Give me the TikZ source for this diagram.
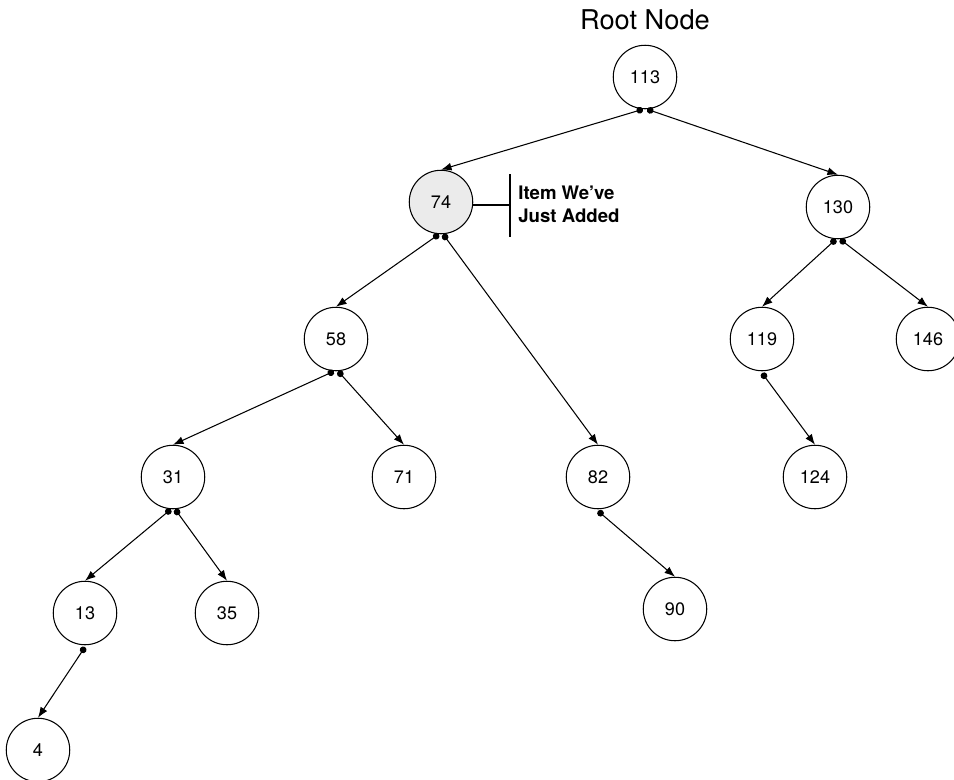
\documentclass[tikz,border=0pt]{standalone}
\usepackage{fontspec}
\setmainfont{TeX Gyre Heros}
\usetikzlibrary{arrows.meta,positioning}
\tikzset{
  bst/.style={circle, draw, line width=0.6pt, minimum size=1.27cm, inner sep=0pt,
    font=\fontsize{10.3}{12}\selectfont},
  added/.style={bst, fill=black!8},
  link/.style={line width=0.6pt, {Circle[length=3.8pt]}-{Latex[length=6pt,width=4.5pt]}},
}

\begin{document}
\begin{tikzpicture}[x=0.02cm, y=-0.02cm]
 \useasboundingbox (0,0) rectangle (954,779);
 \node[font=\fontsize{15.5}{18}\selectfont] (title) at (645,20) {Root Node};
 \node[bst] (n113) at (645,77) {113};
 \node[added] (n74) at (441,202) {74};
 \node[bst] (n130) at (838,207) {130};
 \node[bst] (n58) at (336,339) {58};
 \node[bst] (n119) at (762,339) {119};
 \node[bst] (n146) at (928,339) {146};
 \node[bst] (n31) at (173,477) {31};
 \node[bst] (n71) at (404,477) {71};
 \node[bst] (n82) at (598,477) {82};
 \node[bst] (n124) at (815,477) {124};
 \node[bst] (n13) at (85,613) {13};
 \node[bst] (n35) at (227,613) {35};
 \node[bst] (n90) at (675,609) {90};
 \node[bst] (n4) at (38,750) {4};

 \draw[link] ([xshift=-1.2pt]n113.south) -- (n74.north);
 \draw[link] ([xshift=1.2pt]n113.south) -- (n130.north);
 \draw[link] ([xshift=-1.2pt]n74.south) -- (n58.north);
 \draw[link] ([xshift=1.2pt]n74.south) -- (n82.north);
 \draw[link] ([xshift=-1.2pt]n130.south) -- (n119.north);
 \draw[link] ([xshift=1.2pt]n130.south) -- (n146.north);
 \draw[link] ([xshift=-1.2pt]n58.south) -- (n31.north);
 \draw[link] ([xshift=1.2pt]n58.south) -- (n71.north);
 \draw[link] ([xshift=-1.2pt]n31.south) -- (n13.north);
 \draw[link] ([xshift=1.2pt]n31.south) -- (n35.north);
 \draw[link] ([yshift=-1pt]n13.south) -- (n4.north);
 \draw[link] ([yshift=-1pt]n82.south) -- (n90.north);
 \draw[link] ([yshift=-1pt]n119.south) -- (n124.north);

 \coordinate (tick) at (510,205);
 \coordinate (tickt) at (510,174);
 \coordinate (tickb) at (510,237);
 \draw[line width=0.6pt] (n74.east |- tick) -- (tick);
 \draw[line width=0.6pt] (tickt) -- (tickb);
 \node[anchor=west, align=left, inner sep=0pt, font=\fontsize{10.6}{13}\selectfont\bfseries]
   (note) at (518,204) {Item We’ve\\Just Added};
\end{tikzpicture}
\end{document}
